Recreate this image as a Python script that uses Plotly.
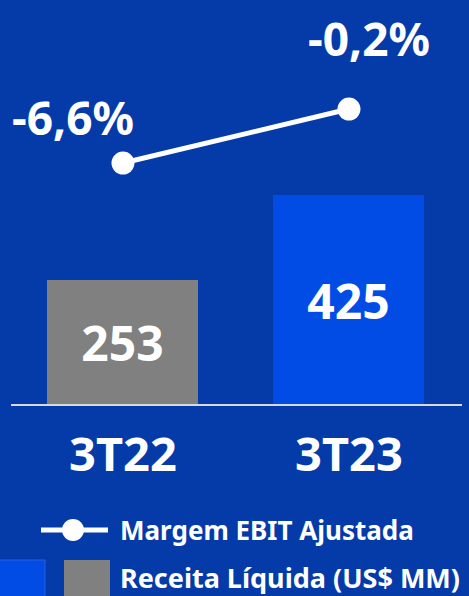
import plotly.graph_objects as go

categories = ["3T22", "3T23"]
receita = [253, 425]
margem = [-6.6, -0.2]
margem_labels = ["-6,6%", "-0,2%"]
bar_colors = ["#808080", "#024CE6"]

BG = "#053BA9"
W, H = 469, 596
FONT = "Noto Sans"

fig = go.Figure()
fig.add_trace(go.Bar(
    x=categories, y=receita, width=0.668,
    marker=dict(color=bar_colors, line=dict(width=0)),
    text=[str(v) for v in receita], textposition="inside",
    insidetextanchor="middle", textangle=0,
    textfont=dict(family=FONT, size=48, color="white", weight="bold"),
    cliponaxis=False, showlegend=False, yaxis="y",
))
fig.add_trace(go.Scatter(
    x=categories, y=margem, mode="lines+markers",
    line=dict(color="white", width=5),
    marker=dict(color="white", size=23),
    showlegend=False, yaxis="y2", cliponaxis=False,
))

shifts = [(-50, 46), (20, 71)]
for c, v, t, (dx, dy) in zip(categories, margem, margem_labels, shifts):
    fig.add_annotation(x=c, y=v, xref="x", yref="y2", text=t, showarrow=False,
                       xshift=dx, yshift=dy,
                       font=dict(family=FONT, size=46, color="white", weight="bold"))

# baseline
fig.add_shape(type="line", xref="paper", yref="y", x0=11/W, x1=462/W, y0=0, y1=0,
              line=dict(color="#D9D9D9", width=2))

# legend (drawn)
def py(px):
    return (H - px) / H
fig.add_shape(type="line", xref="paper", yref="paper", x0=41/W, x1=108/W, y0=py(530), y1=py(530),
              line=dict(color="white", width=5))
fig.add_shape(type="circle", xref="paper", yref="paper", x0=62/W, x1=84/W, y0=py(541), y1=py(519),
              fillcolor="white", line=dict(color="white", width=0))
fig.add_shape(type="rect", xref="paper", yref="paper", x0=-2/W, x1=45/W, y0=py(598), y1=py(560),
              fillcolor="#024CE6", line=dict(color="#2A5CE0", width=1))
fig.add_shape(type="rect", xref="paper", yref="paper", x0=64/W, x1=110/W, y0=py(598), y1=py(560),
              fillcolor="#808080", line=dict(width=0))
fig.add_annotation(xref="paper", yref="paper", x=118/W, y=py(530), xanchor="left", yanchor="middle",
                   text="Margem EBIT Ajustada", showarrow=False,
                   font=dict(family=FONT, size=26, color="white", weight="bold"))
fig.add_annotation(xref="paper", yref="paper", x=118/W, y=py(577), xanchor="left", yanchor="middle",
                   text="Receita Líquida (US$ MM)", showarrow=False,
                   font=dict(family=FONT, size=27, color="white", weight="bold"))

fig.update_layout(
    width=W, height=H, margin=dict(l=0, r=0, t=0, b=0),
    paper_bgcolor=BG, plot_bgcolor=BG,
    xaxis=dict(range=[-0.544, 1.531], anchor="free", position=191/H,
               showgrid=False, zeroline=False, showline=False, ticks="",
               ticklabelstandoff=18,
               tickfont=dict(family=FONT, size=47, color="white", weight="bold")),
    yaxis=dict(range=[-386.6, 819.7], visible=False, showgrid=False, zeroline=False),
    yaxis2=dict(range=[-57.92, 12.72], overlaying="y", visible=False, showgrid=False, zeroline=False),
    bargap=0,
)
fig.write_html("out.html", config={"displayModeBar": False},
               post_script="document.body.style.margin='0';document.body.style.background='%s';" % BG)
